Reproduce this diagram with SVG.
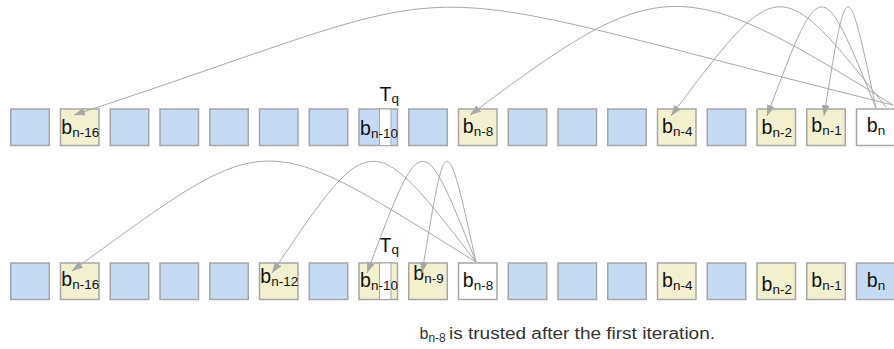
<svg xmlns="http://www.w3.org/2000/svg" width="894" height="349" viewBox="0 0 894 349">
  <style>
    .blk { stroke: #a6a6a6; stroke-width: 1.5; }
    .blue { fill: #c6dbf3; }
    .yel { fill: #f3f0d0; }
    .wht { fill: #ffffff; }
    .strip { fill: #ffffff; stroke: #a6a6a6; stroke-width: 1; }
    .lbl { font-family: "Liberation Sans", Arial, sans-serif; font-size: 19.5px; fill: #111; text-anchor: middle; }
    .sub { font-size: 13.5px; }
    .tq { font-family: "Liberation Sans", Arial, sans-serif; font-size: 19.5px; fill: #111; }
    .cap { font-family: "Liberation Sans", Arial, sans-serif; font-size: 16px; fill: #333; }
    .arc { fill: none; stroke: #a8a8a8; stroke-width: 1; marker-end: url(#head); }
  </style>
  <defs>
    <marker id="head" markerUnits="userSpaceOnUse" markerWidth="12" markerHeight="9" refX="11" refY="4" orient="auto">
      <path d="M0,0 L11,4 L0,8 z" fill="#a8a8a8"/>
    </marker>
  </defs>

  <!-- upper row of blocks -->
  <g id="top-row">
    <g id="t0"><rect class="blk blue" x="10.75" y="109" width="38.5" height="36.5"/></g>
    <g id="t1"><rect class="blk yel" x="60.5" y="109" width="38.5" height="36.5"/>
      <text class="lbl" x="80.3" y="134">b<tspan class="sub" dy="3">n-16</tspan></text></g>
    <g id="t2"><rect class="blk blue" x="110.25" y="109" width="38.5" height="36.5"/></g>
    <g id="t3"><rect class="blk blue" x="160" y="109" width="38.5" height="36.5"/></g>
    <g id="t4"><rect class="blk blue" x="209.75" y="109" width="38.5" height="36.5"/></g>
    <g id="t5"><rect class="blk blue" x="259.5" y="109" width="38.5" height="36.5"/></g>
    <g id="t6"><rect class="blk blue" x="309.25" y="109" width="38.5" height="36.5"/></g>
    <g id="t7"><rect class="blk blue" x="359" y="109" width="38.5" height="36.5"/>
      <rect class="strip" x="379.5" y="109" width="11.5" height="36.5"/>
      <text class="lbl" x="379" y="135">b<tspan class="sub" dy="3">n-10</tspan></text>
      <text class="tq" x="379.5" y="100.5">T<tspan class="sub" dy="2">q</tspan></text></g>
    <g id="t8"><rect class="blk blue" x="408.75" y="109" width="38.5" height="36.5"/></g>
    <g id="t9"><rect class="blk yel" x="458.5" y="109" width="38.5" height="36.5"/>
      <text class="lbl" x="478" y="132.5">b<tspan class="sub" dy="3">n-8</tspan></text></g>
    <g id="t10"><rect class="blk blue" x="508.25" y="109" width="38.5" height="36.5"/></g>
    <g id="t11"><rect class="blk blue" x="558" y="109" width="38.5" height="36.5"/></g>
    <g id="t12"><rect class="blk blue" x="607.75" y="109" width="38.5" height="36.5"/></g>
    <g id="t13"><rect class="blk yel" x="657.5" y="109" width="38.5" height="36.5"/>
      <text class="lbl" x="677.3" y="132.5">b<tspan class="sub" dy="3">n-4</tspan></text></g>
    <g id="t14"><rect class="blk blue" x="707.25" y="109" width="38.5" height="36.5"/></g>
    <g id="t15"><rect class="blk yel" x="757" y="109" width="38.5" height="36.5"/>
      <text class="lbl" x="776.8" y="134">b<tspan class="sub" dy="3">n-2</tspan></text></g>
    <g id="t16"><rect class="blk yel" x="806.75" y="109" width="38.5" height="36.5"/>
      <text class="lbl" x="826.5" y="132">b<tspan class="sub" dy="3">n-1</tspan></text></g>
    <g id="t17"><rect class="blk wht" x="856.5" y="109" width="38.5" height="36.5"/>
      <text class="lbl" x="876" y="132">b<tspan class="sub" dy="3">n</tspan></text></g>
  </g>

  <!-- lower row of blocks -->
  <g id="bottom-row">
    <g id="u0"><rect class="blk blue" x="10.75" y="263" width="38.5" height="36.5"/></g>
    <g id="u1"><rect class="blk yel" x="60.5" y="263" width="38.5" height="36.5"/>
      <text class="lbl" x="80.3" y="285.7">b<tspan class="sub" dy="3">n-16</tspan></text></g>
    <g id="u2"><rect class="blk blue" x="110.25" y="263" width="38.5" height="36.5"/></g>
    <g id="u3"><rect class="blk blue" x="160" y="263" width="38.5" height="36.5"/></g>
    <g id="u4"><rect class="blk blue" x="209.75" y="263" width="38.5" height="36.5"/></g>
    <g id="u5"><rect class="blk yel" x="259.5" y="263" width="38.5" height="36.5"/>
      <text class="lbl" x="279.3" y="283.3">b<tspan class="sub" dy="3">n-12</tspan></text></g>
    <g id="u6"><rect class="blk blue" x="309.25" y="263" width="38.5" height="36.5"/></g>
    <g id="u7"><rect class="blk yel" x="359" y="263" width="38.5" height="36.5"/>
      <rect class="strip" x="379.5" y="263" width="11.5" height="36.5"/>
      <text class="lbl" x="379" y="287.3">b<tspan class="sub" dy="3">n-10</tspan></text>
      <text class="tq" x="379.5" y="251.7">T<tspan class="sub" dy="2">q</tspan></text></g>
    <g id="u8"><rect class="blk yel" x="408.75" y="263" width="38.5" height="36.5"/>
      <text class="lbl" x="428.5" y="280">b<tspan class="sub" dy="3">n-9</tspan></text></g>
    <g id="u9"><rect class="blk wht" x="458.5" y="263" width="38.5" height="36.5"/>
      <text class="lbl" x="478" y="286.7">b<tspan class="sub" dy="3">n-8</tspan></text></g>
    <g id="u10"><rect class="blk blue" x="508.25" y="263" width="38.5" height="36.5"/></g>
    <g id="u11"><rect class="blk blue" x="558" y="263" width="38.5" height="36.5"/></g>
    <g id="u12"><rect class="blk blue" x="607.75" y="263" width="38.5" height="36.5"/></g>
    <g id="u13"><rect class="blk yel" x="657.5" y="263" width="38.5" height="36.5"/>
      <text class="lbl" x="677.3" y="287.3">b<tspan class="sub" dy="3">n-4</tspan></text></g>
    <g id="u14"><rect class="blk blue" x="707.25" y="263" width="38.5" height="36.5"/></g>
    <g id="u15"><rect class="blk yel" x="757" y="263" width="38.5" height="36.5"/>
      <text class="lbl" x="776.8" y="290.5">b<tspan class="sub" dy="3">n-2</tspan></text></g>
    <g id="u16"><rect class="blk yel" x="806.75" y="263" width="38.5" height="36.5"/>
      <text class="lbl" x="826.5" y="287.3">b<tspan class="sub" dy="3">n-1</tspan></text></g>
    <g id="u17"><rect class="blk blue" x="856.5" y="263" width="38.5" height="36.5"/>
      <text class="lbl" x="876" y="287.3">b<tspan class="sub" dy="3">n</tspan></text></g>
  </g>

  <!-- dependency arcs -->
  <g id="connectors">
    <path class="arc" d="M893,105 C360,-27 508,-27 74,115"/>
    <path class="arc" d="M893,105 C679,-28 661,-28 470,115"/>
    <path class="arc" d="M886,107 C779,-28 779,-28 671,116"/>
    <path class="arc" d="M876,108 C821,-28 821,-28 767,116"/>
    <path class="arc" d="M876,108 C847,-28 847,-28 824,116"/>

    <path class="arc" d="M476,262 C257,126 272,126 72,271"/>
    <path class="arc" d="M476,262 C371,126 371,126 272,273"/>
    <path class="arc" d="M476,262 C422,126 422,126 367,273"/>
    <path class="arc" d="M476,262 C446,126 446,126 422,273"/>
  </g>

  <!-- caption -->
  <g id="caption">
    <text class="cap" x="419.5" y="339">b<tspan font-size="12" dy="3">n-8</tspan></text>
    <text class="cap" x="449" y="339" textLength="266" lengthAdjust="spacingAndGlyphs">is trusted after the first iteration.</text>
  </g>
</svg>
